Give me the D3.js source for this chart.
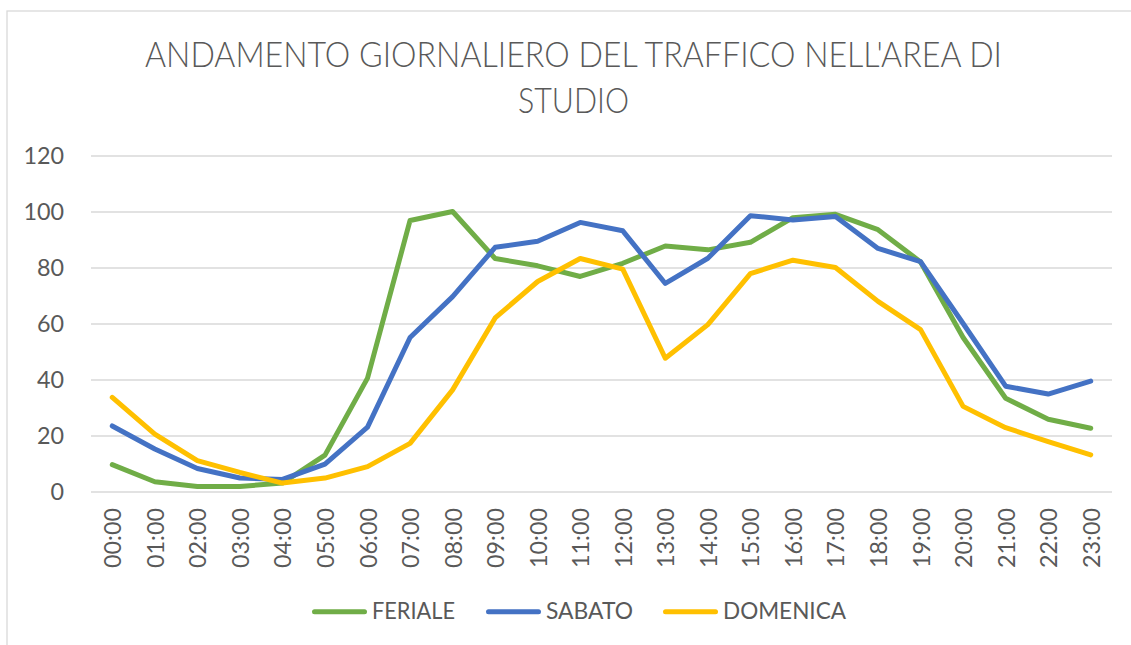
<!DOCTYPE html>
<html><head><meta charset="utf-8">
<script src="https://cdn.jsdelivr.net/npm/d3@7"></script>
<style>
html,body{margin:0;padding:0;background:#fff;}
svg text{font-family:"Lato","Liberation Sans",sans-serif;fill:#595959;}
</style></head>
<body><svg id="c" width="1131" height="645"></svg>
<script>
const hours = ["00:00","01:00","02:00","03:00","04:00","05:00","06:00","07:00","08:00","09:00","10:00","11:00","12:00","13:00","14:00","15:00","16:00","17:00","18:00","19:00","20:00","21:00","22:00","23:00"];
const feriale = [9.6,3.5,1.8,1.8,3,13,40.5,96.8,100,83.2,80.6,76.8,81.5,87.7,86.3,89,97.8,99,93.5,82,55,33.3,25.8,22.6];
const sabato = [23.4,15.2,8.2,4.8,4.3,9.8,23,55,69.6,87.2,89.4,96.1,93.1,74.3,83.3,98.5,97,98.2,86.8,82.1,60,37.6,34.8,39.4];
const domenica = [33.6,20.5,11,6.8,3,4.8,8.9,17.2,36.3,62,75,83.2,79.4,47.6,59.6,77.8,82.6,80,67.9,57.8,30.4,22.8,17.8,13.1];
const seriesNames = ["FERIALE","SABATO","DOMENICA"];
const seriesColors = ["#70ad47","#4472c4","#ffc000"];
const yTicks = [0,20,40,60,80,100,120];
const titleLines = ["ANDAMENTO GIORNALIERO DEL TRAFFICO NELL'AREA DI","STUDIO"];

const svg = d3.select("#c");
svg.append("rect").attr("x",7).attr("y",11).attr("width",1140).attr("height",660)
  .attr("fill","#fff").attr("stroke","#d9d9d9").attr("stroke-width",1.3);

const x = d3.scaleBand().domain(hours).range([91,1112]);
const y = d3.scaleLinear().domain([0,120]).range([491.5,155.5]);

// squeeze helper: scale text length by factor k
function squeeze(sel, k){
  sel.each(function(){
    const w = this.getComputedTextLength();
    d3.select(this).attr("textLength", w*k).attr("lengthAdjust","spacingAndGlyphs");
  });
}
function fitTo(node, target){
  const w = node.getComputedTextLength();
  d3.select(node).attr("textLength", target).attr("lengthAdjust","spacingAndGlyphs");
  return target / w;
}

// title
const titleY = [67,112.5];
const titleW = [857,111];
const tt = svg.selectAll("text.title").data(titleLines).join("text").attr("class","title")
  .attr("x",573.5).attr("y",(d,i)=>titleY[i]).attr("text-anchor","middle")
  .attr("font-size",35.5).attr("font-weight",300).text(d=>d);
tt.each(function(d,i){ fitTo(this,titleW[i]); });

// grid + y labels
const yAxis = d3.axisLeft(y).tickValues(yTicks).tickSize(-(1112-91)).tickPadding(27);
const gy = svg.append("g").attr("transform","translate(91,0)").call(yAxis);
gy.select(".domain").remove();
gy.selectAll(".tick line").attr("stroke","#d9d9d9").attr("stroke-width",1.5);
const yt = gy.selectAll(".tick text").attr("font-size",23.5).attr("dy","0.36em")
  .attr("font-family",null).attr("fill","#595959");

// x labels
const xAxis = d3.axisBottom(x).tickSize(0).tickPadding(0);
const gx = svg.append("g").attr("transform","translate(0,491.5)").call(xAxis);
gx.select(".domain").remove();
const xt = gx.selectAll(".tick text").attr("font-size",23.5)
  .attr("font-family",null).attr("fill","#595959")
  .attr("text-anchor","end").attr("dy",null).attr("y",null)
  .attr("transform","translate(9,16.5) rotate(-90)");
const kTick = fitTo(xt.node(), 60);
squeeze(xt.filter((d,i)=>i>0), kTick);
squeeze(yt, kTick);

// lines
const line = d3.line().x((d,i)=>x(hours[i])+x.bandwidth()/2).y(d=>y(d));
const data = [feriale,sabato,domenica];
svg.append("g").selectAll("path").data(data).join("path")
  .attr("d",line).attr("fill","none")
  .attr("stroke",(d,i)=>seriesColors[i]).attr("stroke-width",5)
  .attr("stroke-linejoin","round").attr("stroke-linecap","round");

// legend
const legX = [314.5,488.5,665.5];
const legW = [83,87,123];
const lg = svg.append("g").selectAll("g").data(seriesNames).join("g")
  .attr("transform",(d,i)=>`translate(${legX[i]},611.7)`);
lg.append("line").attr("x1",0).attr("x2",50).attr("stroke",(d,i)=>seriesColors[i])
  .attr("stroke-width",5).attr("stroke-linecap","round");
lg.append("text").attr("x",57.5).attr("y",7.6).attr("font-size",23)
  .text(d=>d).each(function(d,i){ fitTo(this, legW[i]); });
</script></body></html>
